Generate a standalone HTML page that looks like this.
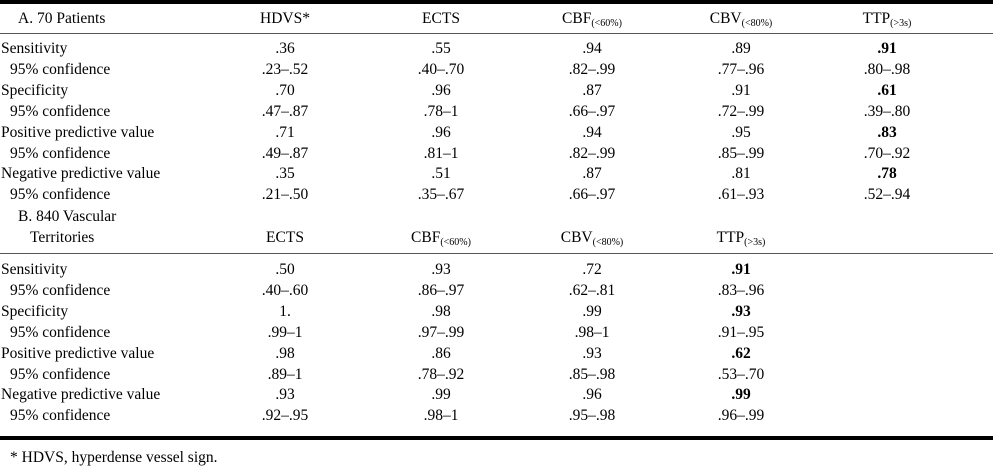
<!DOCTYPE html>
<html><head><meta charset="utf-8"><style>
body{margin:0;width:993px;height:467px;background:#fff;position:relative;overflow:hidden;font-family:"Liberation Serif",serif;font-size:15.5px;color:#000}
.t{position:absolute;line-height:18px;white-space:nowrap}
.c{transform:translateX(-50%)}
.rule{position:absolute;left:0;width:993px;background:#000}
sub{font-size:10px;vertical-align:-3px}
b{font-weight:bold}
</style></head><body>
<div class="rule" style="top:0;height:4px"></div>
<div class="rule" style="top:33px;height:1px;background:#555"></div>
<div class="rule" style="top:253px;height:1px;background:#555"></div>
<div class="rule" style="top:436px;height:4px"></div>
<div id="tbl"></div>
<div class="t" style="left:10px;top:449px">* HDVS, hyperdense vessel sign.</div>
<script>
const rowLabels=["Sensitivity","95% confidence","Specificity","95% confidence","Positive predictive value","95% confidence","Negative predictive value","95% confidence"];
const headA=["HDVS*","ECTS","CBF<sub>(&lt;60%)</sub>","CBV<sub>(&lt;80%)</sub>","TTP<sub>(&gt;3s)</sub>"];
const headB=["ECTS","CBF<sub>(&lt;60%)</sub>","CBV<sub>(&lt;80%)</sub>","TTP<sub>(&gt;3s)</sub>"];
const dataA=[
[".36",".55",".94",".89","<b>.91</b>"],
[".23–.52",".40–.70",".82–.99",".77–.96",".80–.98"],
[".70",".96",".87",".91","<b>.61</b>"],
[".47–.87",".78–1",".66–.97",".72–.99",".39–.80"],
[".71",".96",".94",".95","<b>.83</b>"],
[".49–.87",".81–1",".82–.99",".85–.99",".70–.92"],
[".35",".51",".87",".81","<b>.78</b>"],
[".21–.50",".35–.67",".66–.97",".61–.93",".52–.94"]];
const dataB=[
[".50",".93",".72","<b>.91</b>"],
[".40–.60",".86–.97",".62–.81",".83–.96"],
["1.",".98",".99","<b>.93</b>"],
[".99–1",".97–.99",".98–1",".91–.95"],
[".98",".86",".93","<b>.62</b>"],
[".89–1",".78–.92",".85–.98",".53–.70"],
[".93",".99",".96","<b>.99</b>"],
[".92–.95",".98–1",".95–.98",".96–.99"]];
const colX=[285,441,592,741,887];
const tbl=document.getElementById('tbl');
function add(html,x,y,center,name){
  const d=document.createElement('div');
  d.className='t'+(center?' c':'');
  d.style.left=x+'px';d.style.top=(y-9)+'px';
  d.innerHTML=html;
  
  
  tbl.appendChild(d);
}
add("A. 70 Patients",18,19,false,'section-a-title');
headA.forEach((h,i)=>add(h,colX[i],19,true,'header-a-'+i));
const rowA=49,rowB=270,dy=20.9;
rowLabels.forEach((l,r)=>{
  const ind=l.startsWith('95')?10:1;
  add(l,ind,rowA+r*dy,false,'row-label-a-'+r);
  add(l,ind,rowB+r*dy,false,'row-label-b-'+r);
  dataA[r].forEach((v,i)=>add(v,colX[i],rowA+r*dy,true,'cell-a-'+r+'-'+i));
  dataB[r].forEach((v,i)=>add(v,colX[i],rowB+r*dy,true,'cell-b-'+r+'-'+i));
});
add("B. 840 Vascular",18,217,false,'section-b-title');
add("Territories",30,238,false,'section-b-title-2');
headB.forEach((h,i)=>add(h,colX[i],238,true,'header-b-'+i));
</script>
</body></html>
